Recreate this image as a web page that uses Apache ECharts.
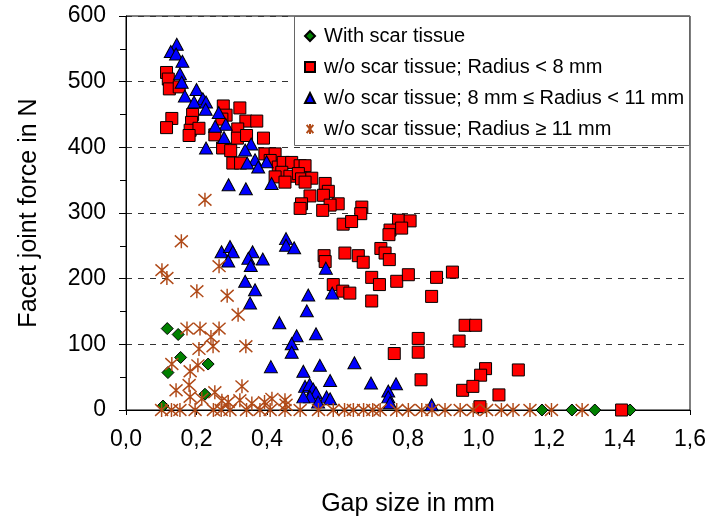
<!DOCTYPE html>
<html><head><meta charset="utf-8">
<script src="https://cdn.jsdelivr.net/npm/echarts@6/dist/echarts.min.js"></script>
<style>html,body{margin:0;padding:0;background:#fff}#c{width:712px;height:522px}</style>
</head><body><div id="c"></div>
<script>
const seriesNames = ['With scar tissue', 'w/o scar tissue; Radius < 8 mm', 'w/o scar tissue; 8 mm \u2264 Radius < 11 mm', 'w/o scar tissue; Radius \u2265 11 mm'];
const xTickLabels = ['0,0','0,2','0,4','0,6','0,8','1,0','1,2','1,4','1,6'];
const yTickLabels = ['0','100','200','300','400','500','600'];

const withScar = [[0.117,124],[0.148,115],[0.155,80],[0.119,57],[0.233,70],[0.224,24],[0.105,6],
  [1.18,0],[1.265,0],[1.33,0],[1.415,0],[1.43,0]];

const radiusLt8 = [[0.115,514],[0.120,504],[0.123,489],[0.151,492],[0.130,444],[0.115,430],[0.276,463],[0.323,460],
  [0.189,450],[0.186,438],[0.182,426],[0.207,429],[0.179,418],[0.284,449],[0.272,443],[0.340,440],[0.371,440],
  [0.317,428],[0.252,419],[0.316,414],[0.342,418],[0.390,414],[0.274,399],[0.297,395],[0.303,376],[0.325,376],
  [0.394,390],[0.423,390],[0.409,380],[0.432,370],[0.446,377],[0.470,377],[0.494,372],[0.508,372],[0.442,362],
  [0.465,356],[0.489,360],[0.498,352],[0.527,353],[0.508,347],[0.423,355],[0.451,347],[0.522,326],[0.565,345],
  [0.574,333],[0.560,327],[0.602,314],[0.579,312],[0.498,314],[0.494,307],[0.558,304],[0.669,309],[0.666,299],
  [0.616,283],[0.640,287],[0.773,289],[0.806,288],[0.749,274],[0.782,277],[0.746,267],[0.621,239],[0.659,235],
  [0.673,225],[0.562,235],[0.565,226],[0.723,246],[0.735,239],[0.747,229],[0.697,202],[0.719,191],[0.768,196],
  [0.801,206],[0.881,202],[0.926,210],[0.867,173],[0.697,166],[0.588,191],[0.615,181],[0.635,178],[0.962,129],
  [0.992,129],[0.829,109],[0.945,105],[0.761,86],[0.829,88],[1.020,63],[1.006,53],[1.113,61],[0.837,46],
  [0.955,30],[0.984,36],[1.058,23],[1.004,5],[1.406,0]];

const radius8to11 = [[0.144,557],[0.127,546],[0.142,542],[0.160,531],[0.153,512],[0.158,499],[0.200,488],[0.167,478],
  [0.218,474],[0.193,469],[0.227,469],[0.226,458],[0.263,453],[0.283,435],[0.253,432],[0.278,415],[0.227,399],
  [0.355,405],[0.338,396],[0.366,381],[0.344,376],[0.399,378],[0.375,370],[0.413,345],[0.340,337],[0.291,343],
  [0.454,261],[0.454,251],[0.477,247],[0.271,241],[0.295,249],[0.303,241],[0.290,227],[0.359,241],[0.347,231],
  [0.354,220],[0.388,230],[0.567,216],[0.338,196],[0.366,183],[0.352,163],[0.517,175],[0.585,178],[0.513,151],
  [0.435,133],[0.484,113],[0.470,101],[0.539,116],[0.470,88],[0.411,66],[0.503,59],[0.550,68],[0.648,72],
  [0.579,45],[0.508,36],[0.521,39],[0.531,32],[0.539,26],[0.569,20],[0.522,20],[0.503,20],[0.545,12],
  [0.695,41],[0.766,40],[0.744,29],[0.744,20],[0.749,11],[0.867,8],[0.579,17]];

const radiusGe11 = [[0.224,320],[0.157,257],[0.102,213],[0.116,201],[0.264,219],[0.201,181],[0.287,174],[0.318,145],
  [0.173,124],[0.210,124],[0.264,124],[0.241,111],[0.207,93],[0.340,97],[0.247,97],[0.130,70],[0.204,68],
  [0.182,59],[0.142,30],[0.179,38],[0.329,36],[0.182,20],[0.252,27],[0.272,14],[0.323,15],[0.414,17],
  [0.451,15],[0.215,17],[0.393,12],[0.357,10],[0.454,8],[0.290,12],
  [0.101,0],[0.129,0],[0.153,0],[0.196,0],[0.248,0],[0.270,0],[0.295,0],[0.342,0],[0.380,0],[0.409,0],
  [0.451,0],[0.494,0],[0.546,0],[0.588,0],[0.620,0],[0.645,0],[0.674,0],[0.700,0],[0.721,0],[0.768,0],
  [0.801,0],[0.839,0],[0.868,0],[0.905,0],[0.948,0],[0.985,0],[1.023,0],[1.065,0],[1.098,0],[1.146,0],
  [1.207,0],[1.294,0]];

const FONT = '"Liberation Sans", Arial, sans-serif';
const starPath = 'path://M1,1L9,11M9,1L1,11M5,0L5,12';

const chart = echarts.init(document.getElementById('c'), null, {renderer: 'canvas'});
chart.setOption({
  animation: false,
  backgroundColor: '#fff',
  grid: {left: 126, top: 16, width: 564, height: 397, show: true, borderColor: '#000', borderWidth: 1, backgroundColor: 'transparent'},
  xAxis: {
    type: 'value', min: 0, max: 1.6, interval: 0.2,
    name: 'Gap size in mm', nameLocation: 'middle', nameGap: 82,
    nameTextStyle: {fontFamily: FONT, fontSize: 25, color: '#000'},
    axisLine: {lineStyle: {color: '#000', width: 1}},
    axisTick: {show: true, length: 5, lineStyle: {color: '#000'}},
    axisLabel: {fontFamily: FONT, fontSize: 23, color: '#000', margin: 18,
      formatter: v => xTickLabels[Math.round(v / 0.2)]},
    splitLine: {show: false}
  },
  yAxis: {
    type: 'value', min: 0, max: 600, interval: 100,
    name: 'Facet joint force in N', nameLocation: 'middle', nameGap: 84, nameRotate: 90,
    nameTextStyle: {fontFamily: FONT, fontSize: 25, color: '#000'},
    axisLine: {show: true, lineStyle: {color: '#000', width: 1}},
    axisTick: {show: true, length: 7, lineStyle: {color: '#000'}},
    minorTick: {show: true, splitNumber: 2, length: 6, lineStyle: {color: '#000'}},
    axisLabel: {fontFamily: FONT, fontSize: 23, color: '#000', margin: 20,
      formatter: v => yTickLabels[Math.round(v / 100)]},
    splitLine: {show: true, lineStyle: {color: '#333', type: [6, 6], width: 1}}
  },
  graphic: [{type: 'rect', z: 3, shape: {x: 294.5, y: 16.5, width: 395, height: 129},
    style: {fill: '#fff', stroke: '#666', lineWidth: 1}}],
  legend: {
    orient: 'vertical', left: 304, top: 25, padding: 0, itemGap: 9,
    itemWidth: 10, itemHeight: 10, z: 5,
    textStyle: {fontFamily: FONT, fontSize: 20, lineHeight: 22, color: '#000', padding: [0, 0, 0, 4]},
    data: seriesNames
  },
  series: [
    {name: seriesNames[0], type: 'scatter', data: withScar, symbol: 'diamond', symbolSize: [12, 12],
      itemStyle: {color: '#008000', borderColor: '#000', borderWidth: 1, opacity: 1}},
    {name: seriesNames[1], type: 'scatter', data: radiusLt8, symbol: 'rect', symbolSize: 12,
      itemStyle: {color: '#ff0000', borderColor: '#000', borderWidth: 1, opacity: 1}},
    {name: seriesNames[2], type: 'scatter', data: radius8to11, symbol: 'triangle', symbolSize: [13, 12],
      itemStyle: {color: '#0000ff', borderColor: '#000', borderWidth: 1, opacity: 1}},
    {name: seriesNames[3], type: 'scatter', data: radiusGe11, symbol: starPath, symbolSize: [13, 14],
      itemStyle: {color: 'none', borderColor: '#b04a18', borderWidth: 1.5, opacity: 1}}
  ]
});
</script></body></html>
